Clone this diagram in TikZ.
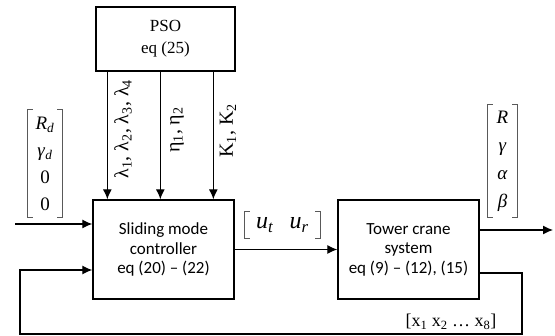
\documentclass[tikz,border=0pt]{standalone}
\usepackage{fontspec}
\setmainfont{Liberation Serif}
\newfontfamily\calib{Carlito}
\usetikzlibrary{arrows.meta,calc}
\begin{document}
\begin{tikzpicture}[x=1pt,y=-1pt,
  blk/.style={draw, line width=1.3pt, rectangle, inner sep=0pt, align=center},
  sysbox/.style={blk, minimum width=141pt, minimum height=99pt, font=\calib\fontsize{17}{19.5}\selectfont},
  arr/.style={line width=1.2pt, -{Latex[length=10pt,width=9pt]}},
  brk/.style={line width=0.8pt, draw=black!65},
  vlab/.style={rotate=90, font=\fontsize{20}{20}\selectfont, inner sep=0pt},
  vec/.style={inner sep=0pt, align=center}]
\useasboundingbox (0,0) rectangle (555,336);

% blocks
\node[blk, minimum width=139pt, minimum height=64pt, font=\fontsize{17}{22}\selectfont] (pso) at (165.5,39) {PSO\\eq (25)};
\node[sysbox] (ctrl) at (163.5,249.5) {Sliding mode\\controller\\eq (20) – (22)};
\node[sysbox] (tower) at (408.5,249.5) {Tower crane\\system\\eq (9) – (12), (15)};

% PSO parameter arrows
\coordinate (a1) at ([xshift=12pt]pso.south west);
\coordinate (a2) at ([xshift=65pt]pso.south west);
\coordinate (a3) at ([xshift=118pt]pso.south west);
\draw[arr] (a1) -- (a1 |- ctrl.north);
\draw[arr] (a2) -- (a2 |- ctrl.north);
\draw[arr] (a3) -- (a3 |- ctrl.north);
\node[vlab] (l1) at (123,129) {λ\textsubscript{1}, λ\textsubscript{2}, λ\textsubscript{3}, λ\textsubscript{4}};
\node[vlab] (l2) at (177,130) {η\textsubscript{1}, η\textsubscript{2}};
\node[vlab] (l3) at (228,131) {K\textsubscript{1}, K\textsubscript{2}};

% reference input
\node[vec, minimum width=34pt, minimum height=107pt, font=\fontsize{19}{27}\selectfont] (rv) at (45,163.5)
  {\textit{R}\textsubscript{\textit{d}}\\\textit{γ}\textsubscript{\textit{d}}\\0\\0};
\draw[brk] ([xshift=5pt]rv.north west) -- (rv.north west) -- (rv.south west) -- ([xshift=5pt]rv.south west);
\draw[brk] ([xshift=-5pt]rv.north east) -- (rv.north east) -- (rv.south east) -- ([xshift=-5pt]rv.south east);
\coordinate (inS) at (15,224);
\draw[arr] (inS) -- (inS -| ctrl.west);

% controller -> tower
\draw[arr] (ctrl.east) -- (tower.west);
\node[vec, minimum width=75pt, minimum height=27pt, font=\fontsize{24}{24}\selectfont] (uv) at (282.5,225)
  {\textit{u}\textsubscript{\textit{t}}\hspace{16pt}\textit{u}\textsubscript{\textit{r}}};
\draw[brk] ([xshift=5pt]uv.north west) -- (uv.north west) -- (uv.south west) -- ([xshift=5pt]uv.south west);
\draw[brk] ([xshift=-5pt]uv.north east) -- (uv.north east) -- (uv.south east) -- ([xshift=-5pt]uv.south east);

% output
\coordinate (oS) at ([yshift=19.5pt]tower.east);
\coordinate (oE) at (553,230);
\draw[arr] (oS) -- (oE);
\node[vec, minimum width=29pt, minimum height=112pt, font=\fontsize{19}{28}\selectfont] (ov) at (502.5,161)
  {\textit{R}\\\textit{γ}\\\textit{α}\\\textit{β}};
\draw[brk] ([xshift=5pt]ov.north west) -- (ov.north west) -- (ov.south west) -- ([xshift=5pt]ov.south west);
\draw[brk] ([xshift=-5pt]ov.north east) -- (ov.north east) -- (ov.south east) -- ([xshift=-5pt]ov.south east);

% feedback
\coordinate (fbo) at ([yshift=-23.5pt]tower.east);
\coordinate (fbR) at (522,334);
\coordinate (fbL) at (20,334);
\coordinate (fbi) at ([yshift=-20.5pt]ctrl.west);
\draw[arr] (fbo) -| (fbR) -- (fbL) |- (fbi);
\node[inner sep=0pt, font=\fontsize{18}{18}\selectfont] (xv) at (451,322)
  {[x\textsubscript{1} x\textsubscript{2} … x\textsubscript{8}]};
\end{tikzpicture}
\end{document}
